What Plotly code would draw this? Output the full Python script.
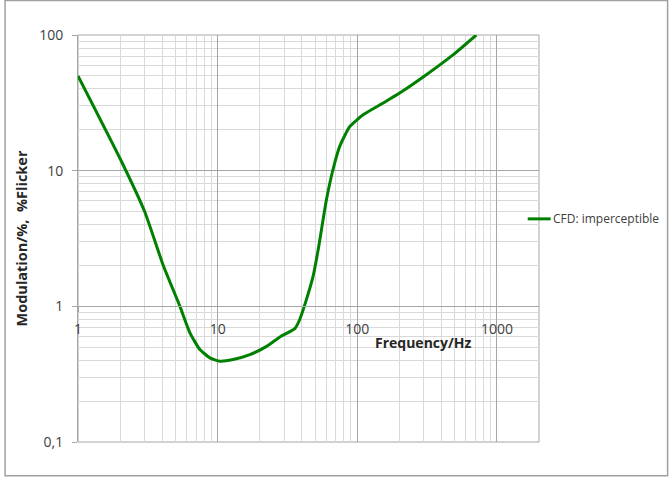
import plotly.graph_objects as go

# curve (Hz, % modulation)
freq = [1, 2, 3, 4.08, 5.37, 6.33, 7.46, 8.8, 10.4, 12.9, 17, 22.4, 27.9, 35.7, 38.7,
        43.2, 48.2, 52.4, 60.1, 67, 74.8, 88.2, 110, 153, 201, 312, 484, 711]
modulation = [50, 12.3, 5.0, 2.0, 1.0, 0.637, 0.48, 0.417, 0.394, 0.405, 0.44, 0.507, 0.595,
              0.685, 0.80, 1.12, 1.66, 2.6, 6.1, 10.2, 15.1, 21.1, 25.8, 31.5, 37.3, 50.9,
              71.3, 100]
series_name = 'CFD: imperceptible'

x_tickvals = [1, 10, 100, 1000]
x_ticktext = ['1', '10', '100', '1000']
y_tickvals = [0.1, 1, 10, 100]
y_ticktext = ['0,1', '1', '10', '100']

major_grid = '#a6a6a6'
minor_grid = '#d9d9d9'
line_green = '#008000'
font_family = 'Open Sans'

# plot area in pixels, used to place things that sit outside it
plot_left, plot_w = 78, 461.3
plot_bottom, plot_h = 442.3, 407.3


def px_x(px):
    return (px - plot_left) / plot_w


def px_y(py):
    return (plot_bottom - py) / plot_h


fig = go.Figure()

fig.add_trace(go.Scatter(
    x=freq,
    y=modulation,
    mode='lines',
    name=series_name,
    line=dict(color=line_green, width=3, shape='spline', smoothing=0.5),
    showlegend=False,
))

fig.update_layout(
    width=669,
    height=477,
    margin=dict(l=78, r=130, t=35, b=35),
    paper_bgcolor='white',
    plot_bgcolor='white',
    font=dict(family=font_family, size=14, color='#404040'),
    xaxis=dict(
        type='log',
        range=[0, 3.301],
        tickvals=x_tickvals,
        ticktext=x_ticktext,
        anchor='free',
        position=1 / 3,
        ticks='outside',
        ticklen=5,
        tickcolor=major_grid,
        ticklabelstandoff=5,
        showline=True,
        linecolor=major_grid,
        showgrid=True,
        gridcolor=major_grid,
        zeroline=False,
        minor=dict(showgrid=True, gridcolor=minor_grid, dtick='D1', ticks=''),
    ),
    yaxis=dict(
        type='log',
        range=[-1, 2],
        tickvals=y_tickvals,
        ticktext=y_ticktext,
        ticks='outside',
        ticklen=5,
        tickcolor=major_grid,
        ticklabelstandoff=6,
        showline=True,
        linecolor=major_grid,
        showgrid=True,
        gridcolor=major_grid,
        zeroline=False,
        minor=dict(showgrid=True, gridcolor=minor_grid, dtick='D1', ticks=''),
        title=dict(text='<b>Modulation/%,  %Flicker</b>', standoff=8,
                   font=dict(size=14.5, color='#262626')),
        automargin=False,
    ),
    showlegend=False,
    annotations=[
        dict(text='<b>Frequency/Hz</b>', xref='paper', yref='paper',
             x=px_x(424), y=px_y(343), xanchor='center', yanchor='middle',
             showarrow=False, font=dict(size=14, color='#262626')),
        # legend entry text
        dict(text=series_name, xref='paper', yref='paper',
             x=px_x(551), y=px_y(219), xanchor='left', yanchor='middle',
             showarrow=False, font=dict(size=12, color='#404040')),
    ],
    shapes=[
        # plot area frame
        dict(type='rect', xref='paper', yref='paper', x0=0, x1=1, y0=0, y1=1,
             line=dict(color=major_grid, width=1), layer='between'),
        # legend entry line
        dict(type='line', xref='paper', yref='paper',
             x0=px_x(528), x1=px_x(551), y0=px_y(219), y1=px_y(219),
             line=dict(color=line_green, width=3)),
        # outer chart border
        dict(type='rect', xref='paper', yref='paper',
             x0=px_x(5), x1=px_x(668), y0=px_y(476), y1=px_y(0.5),
             line=dict(color='#a0a0a0', width=1.5), layer='below'),
    ],
)

fig.write_html("out.html", config={'displayModeBar': False},
               post_script="document.body.style.margin='0';")
